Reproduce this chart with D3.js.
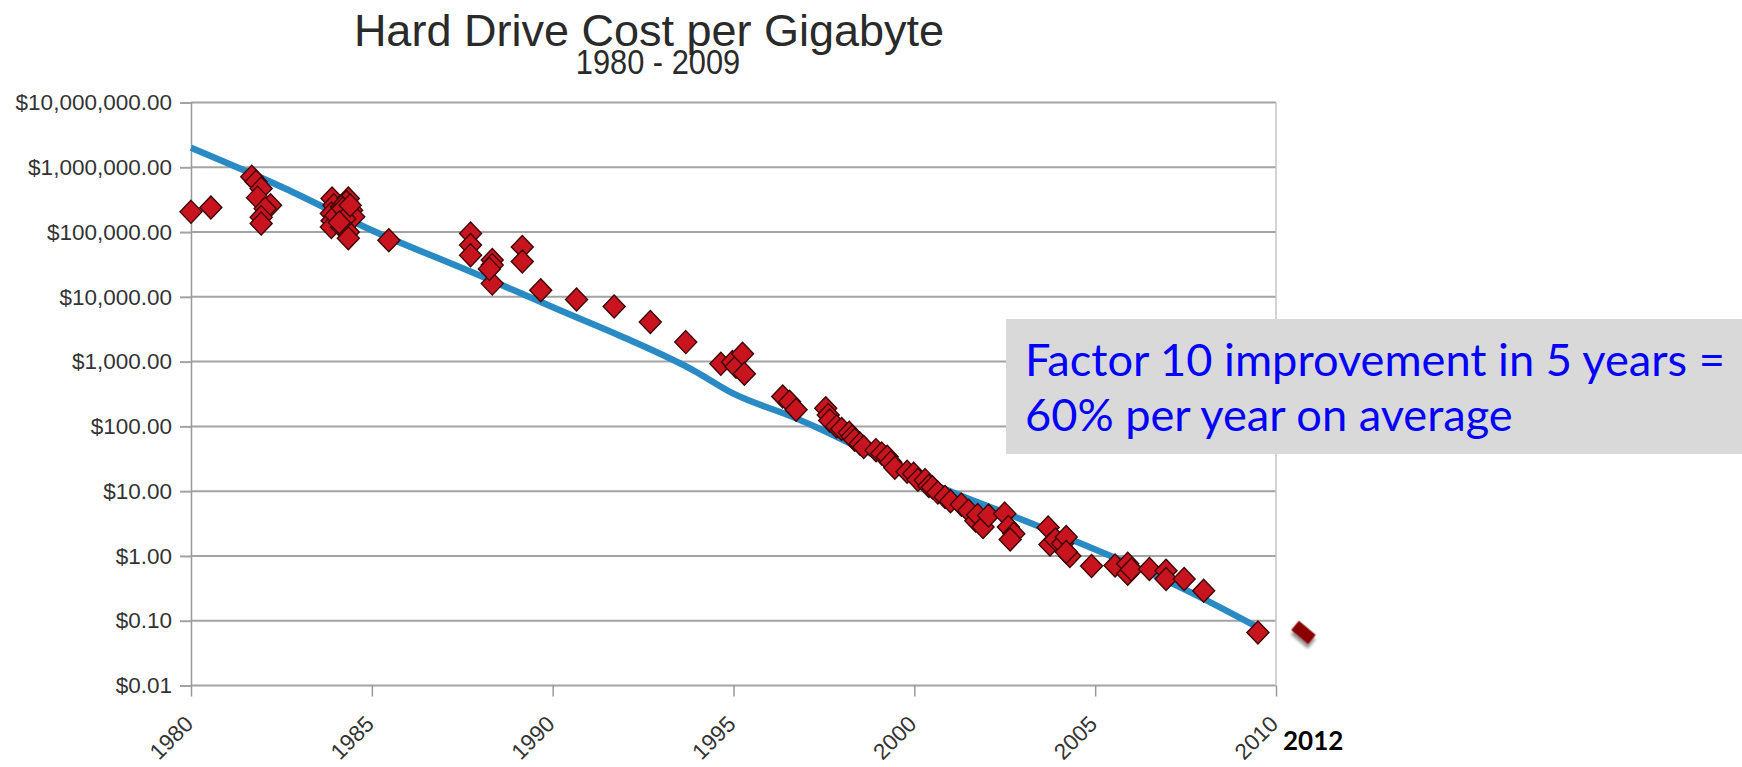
<!DOCTYPE html>
<html>
<head>
<meta charset="utf-8">
<script src="https://cdn.jsdelivr.net/npm/d3@7/dist/d3.min.js"></script>
<style>
  html, body { margin: 0; padding: 0; background: #ffffff; }
  svg { display: block; }
</style>
</head>
<body>
<svg id="chart" width="1742" height="767"></svg>
<script>
// Hard drive price per gigabyte, by date of introduction (year, US$ per GB)
const driveYears = [
  1980.0, 1980.55, 1981.68, 1981.8, 1981.94, 1981.84, 1982.2, 1982.05, 1981.94, 1981.94,
  1983.9, 1983.95, 1984.35, 1984.3, 1983.88, 1984.16, 1984.44, 1983.9, 1983.88, 1984.16,
  1984.0, 1984.35, 1984.3, 1984.5, 1984.35, 1984.35, 1984.2, 1984.25, 1984.4, 1984.1,
  1985.47,
  1987.73, 1987.73, 1987.73, 1988.33, 1988.33, 1988.33, 1988.25, 1989.16, 1989.16, 1989.67,
  1990.66, 1991.7, 1992.7, 1993.68,
  1994.65, 1994.97, 1995.07, 1995.25, 1995.3,
  1996.36, 1996.55, 1996.73,
  1997.55, 1997.62, 1997.66, 1997.85, 1997.99, 1998.2, 1998.28, 1998.35, 1998.5, 1998.6,
  1998.94, 1999.1, 1999.25, 1999.35, 1999.46, 1999.8, 1999.98, 2000.1, 2000.3, 2000.4,
  2000.5, 2000.65, 2000.85, 2001.0, 2001.3, 2001.5, 2001.7, 2001.75, 2001.9, 2002.05,
  2002.5, 2002.6, 2002.75, 2002.65,
  2003.7, 2003.75, 2003.9, 2004.1, 2004.2, 2004.3, 2004.2, 2004.9,
  2005.55, 2005.9, 2005.9, 2006.0, 2006.5, 2006.96, 2006.96, 2007.46, 2008.0, 2009.5
];
const driveCosts = [
  205000, 240000, 713000, 600000, 472000, 340000, 260000, 230000, 170000, 136000,
  330000, 260000, 330000, 290000, 194000, 245000, 218000, 150000, 120000, 120000,
  180000, 150000, 200000, 172000, 100000, 80000, 230000, 160000, 260000, 140000,
  75000,
  95000, 63000, 44000, 37000, 31000, 16000, 27000, 59000, 35000, 12600,
  9100, 7100, 4100, 2000,
  930, 990, 830, 1320, 650,
  290, 240, 180,
  190, 150, 123, 100, 91, 80, 70, 62, 54, 48,
  43, 38, 34, 28, 23, 20, 18.6, 15, 14.8, 12,
  11.5, 9.5, 8.1, 7, 6.2, 5, 3.5, 4.3, 2.8, 4.2,
  4.5, 2.8, 2.2, 1.8,
  2.75, 1.5, 1.8, 1.55, 1.96, 1.0, 1.15, 0.70,
  0.71, 0.76, 0.53, 0.62, 0.63, 0.59, 0.44, 0.44, 0.29, 0.066
];

// Exponential trend through the data
const trendYears = [1980.0, 1982.6, 1984.8, 1988.1, 1990.2, 1992.04, 1993.89, 1995.0, 1996.65, 1997.4, 1998.5, 2000.8, 2002.7, 2005.3, 2007.5, 2009.5];
const trendCosts = [2000000, 470000, 120000, 20000, 6200, 2270, 735, 320, 139, 91, 46, 11, 4.2, 1.07, 0.30, 0.079];

// Extra highlighted point and its label
const extraYear = 2010.76;
const extraCost = 0.066;
const extraLabel = "2012";

// Axis ticks
const xTickYears = [1980, 1985, 1990, 1995, 2000, 2005, 2010];
const yTickCosts = [0.01, 0.1, 1, 10, 100, 1000, 10000, 100000, 1000000, 10000000];

const titleText = "Hard Drive Cost per Gigabyte";
const subtitleText = "1980 - 2009";
const noteLines = ["Factor 10 improvement in 5 years =", "60% per year on average"];

const svg = d3.select("#chart");

const x = d3.scaleLinear().domain([1980, 2010]).range([191, 1276]);
const y = d3.scaleLog().domain([0.01, 1e7]).range([685.5, 102.5]);

const gridColor = "#a3a3a3";
const labelColor = "#333333";
const axisFont = "'Liberation Sans', Arial, sans-serif";

// drop shadow for the highlighted point
const defs = svg.append("defs");
const shadow = defs.append("filter").attr("id", "shadow")
  .attr("x", "-50%").attr("y", "-50%").attr("width", "200%").attr("height", "200%");
shadow.append("feDropShadow")
  .attr("dx", 2.5).attr("dy", 3.5).attr("stdDeviation", 1.8)
  .attr("flood-color", "#000").attr("flood-opacity", 0.45);

// Title
svg.append("text")
  .attr("x", 649).attr("y", 46)
  .attr("text-anchor", "middle")
  .style("font-family", axisFont).style("font-size", "45px")
  .style("fill", "#2a2a2a")
  .text(titleText);
// Subtitle, slightly condensed
svg.append("text")
  .attr("text-anchor", "middle")
  .attr("transform", "translate(658,74) scale(0.88,1)")
  .style("font-family", axisFont).style("font-size", "35px")
  .style("fill", "#2a2a2a")
  .text(subtitleText);

// Horizontal gridlines
svg.append("g").selectAll("line")
  .data(yTickCosts)
  .join("line")
  .attr("x1", x(1980)).attr("x2", x(2010))
  .attr("y1", d => y(d)).attr("y2", d => y(d))
  .attr("stroke", gridColor).attr("stroke-width", 2);

// Right border of the plot
svg.append("line")
  .attr("x1", x(2010)).attr("x2", x(2010))
  .attr("y1", y(1e7)).attr("y2", y(0.01))
  .attr("stroke", "#c4c4c4").attr("stroke-width", 1.5);

// Y axis
const yAxis = d3.axisLeft(y)
  .tickValues(yTickCosts)
  .tickFormat(d3.format("$,.2f"))
  .tickSizeInner(11).tickSizeOuter(0).tickPadding(8);
const gy = svg.append("g").attr("transform", `translate(${x(1980)},0)`).call(yAxis);
gy.select(".domain").attr("stroke", "#999").attr("stroke-width", 1.5);
gy.selectAll(".tick line").attr("stroke", gridColor).attr("stroke-width", 2);
gy.selectAll(".tick text")
  .style("font-family", axisFont).style("font-size", "22.5px")
  .style("fill", labelColor);

// X axis
const xAxis = d3.axisBottom(x)
  .tickValues(xTickYears)
  .tickFormat(d3.format("d"))
  .tickSizeInner(11).tickSizeOuter(0);
const gx = svg.append("g").attr("transform", `translate(0,${y(0.01)})`).call(xAxis);
gx.select(".domain").remove();
gx.selectAll(".tick line").attr("stroke", "#999").attr("stroke-width", 1.5);
gx.selectAll(".tick text")
  .attr("y", 0).attr("dy", 0)
  .attr("text-anchor", "end")
  .attr("transform", "translate(3,40) rotate(-45)")
  .style("font-family", axisFont).style("font-size", "22.5px")
  .style("fill", labelColor);

// Trend line
const trend = trendYears.map((t, i) => [t, trendCosts[i]]);
svg.append("path")
  .datum(trend)
  .attr("d", d3.line().x(d => x(d[0])).y(d => y(d[1])).curve(d3.curveMonotoneX))
  .attr("fill", "none")
  .attr("stroke", "#2a8bc4")
  .attr("stroke-width", 6.5)
  .attr("stroke-linejoin", "round");

// Diamond markers
const diamond = (cx, cy, rx, ry) =>
  `M${cx},${cy - ry}L${cx + rx},${cy}L${cx},${cy + ry}L${cx - rx},${cy}Z`;
const drives = driveYears.map((t, i) => [t, driveCosts[i]]);
svg.append("g").selectAll("path")
  .data(drives)
  .join("path")
  .attr("d", d => diamond(x(d[0]), y(d[1]), 11, 11.5))
  .attr("fill", "#c8141e")
  .attr("stroke", "#3d0606")
  .attr("stroke-width", 1.4);

// Highlighted point
const ex = x(extraYear), ey = y(extraCost);
svg.append("rect")
  .attr("x", ex - 11).attr("y", ey - 6)
  .attr("width", 22).attr("height", 12)
  .attr("transform", `rotate(40,${ex},${ey})`)
  .attr("fill", "#8a0000")
  .attr("filter", "url(#shadow)");
svg.append("text")
  .attr("x", 1283).attr("y", 750)
  .style("font-family", "Lato, 'Open Sans', sans-serif")
  .style("font-weight", 700).style("font-size", "26px")
  .style("fill", "#000")
  .text(extraLabel);

// Annotation box
svg.append("rect")
  .attr("x", 1006).attr("y", 319)
  .attr("width", 736).attr("height", 135)
  .attr("fill", "#d9d9d9");
const note = svg.append("g");
note.selectAll("text")
  .data(noteLines)
  .join("text")
  .attr("x", 1025)
  .attr("y", (d, i) => 376 + i * 55)
  .style("font-family", "Lato, 'Open Sans', sans-serif")
  .style("font-size", "41px")
  .style("fill", "#0000ff")
  .text(d => d);
// fit first line to the box width
const first = note.select("text").node();
const w = first.getComputedTextLength();
const fs = 41 * 700 / w;
note.selectAll("text").style("font-size", fs.toFixed(2) + "px");
</script>
</body>
</html>
